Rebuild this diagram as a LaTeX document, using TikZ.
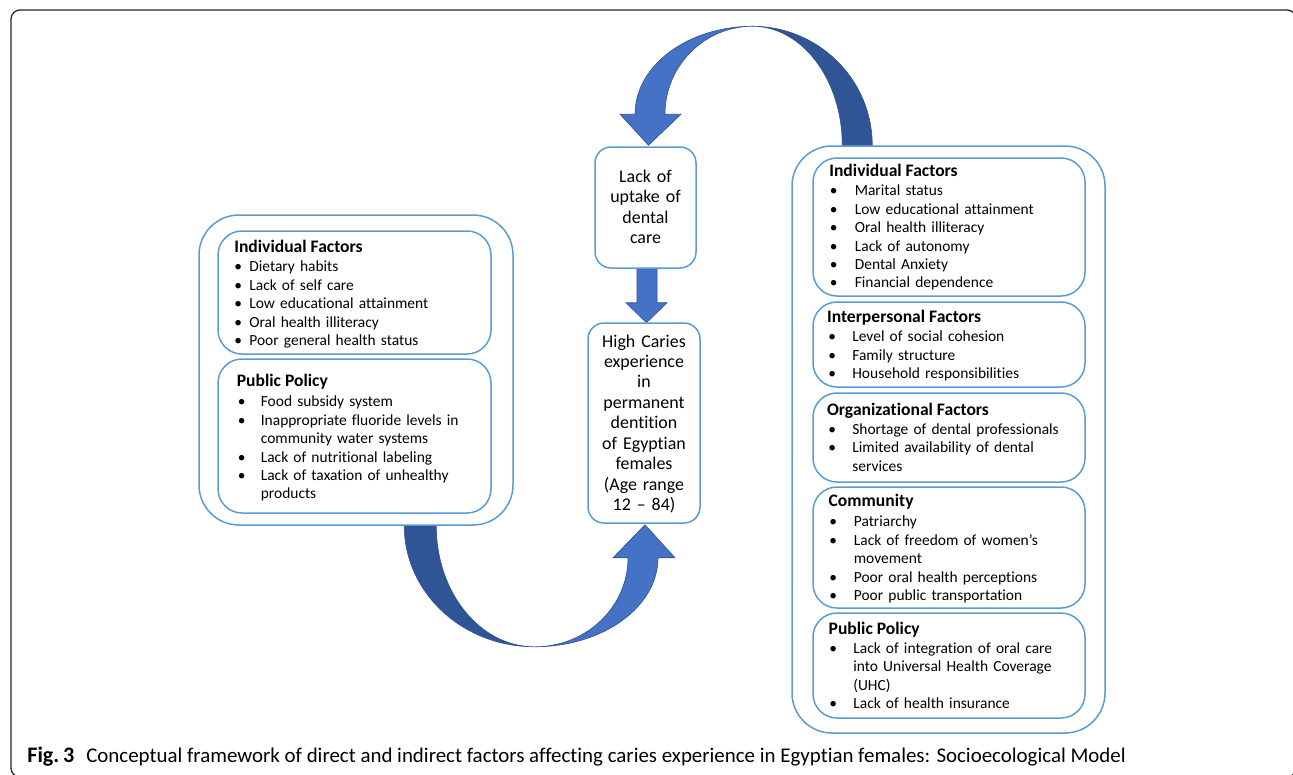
\documentclass[tikz,border=0pt]{standalone}
\usepackage{fontspec}
\setmainfont{Carlito}[Ligatures={TeX,NoCommon}]
\usetikzlibrary{positioning,calc}
\pgfdeclarelayer{background}
\pgfsetlayers{background,main}
\definecolor{boxblue}{RGB}{91,155,213}
\definecolor{arrlight}{RGB}{68,114,196}
\definecolor{arrdark}{RGB}{47,85,151}
\definecolor{arredge}{RGB}{47,82,143}
\newlength{\px}
\setlength{\px}{0.02cm}
\newcommand{\bu}[1]{\makebox[#1\px][l]{\textbullet}}
\newcommand{\hang}[1]{\hspace*{#1\px}}

\begin{document}
\begin{tikzpicture}[x=1\px, y=-1\px,
  outer/.style={draw=boxblue, line width=1.5\px, rounded corners=40\px, inner sep=0pt},
  inner/.style={draw=boxblue, line width=1.5\px, rounded corners=24\px, inner sep=0pt},
  mid/.style={draw=boxblue, line width=1.5\px, rounded corners=16\px, inner sep=0pt},
  ttl/.style={font=\fontsize{10}{12}\selectfont\bfseries, inner sep=0pt, anchor=base west},
  lst/.style={font=\fontsize{8.8}{10.5}\selectfont, inner sep=0pt, anchor=base west,
              text width=#1\px, align=left},
  lst/.default=250,
  ctr/.style={font=\fontsize{10.2}{11.65}\selectfont, inner sep=0pt, anchor=base,
              text width=110\px, align=center},
  light/.style={fill=arrlight, draw=arredge, line width=0.6\px},
  dark/.style={fill=arrdark, draw=arredge, line width=0.6\px}]
  \clip (0,0) rectangle (1293,774);
  \useasboundingbox (0,0) rectangle (1293,774);
  % frame of the figure
  \draw[line width=1.3\px, black!85, rounded corners=9\px] (11,10) rectangle (1296,777);

  % boxes
  \node[outer, minimum width=314\px, minimum height=310\px] (lout) at (356,370) {};
  \node[inner, minimum width=273\px, minimum height=123\px] (lif) at (354.5,292.5) {};
  \node[inner, minimum width=273\px, minimum height=154\px] (lpp) at (354.5,436) {};
  \node[mid, minimum width=101\px, minimum height=121\px] (lack) at (645.5,207.5) {};
  \node[mid, minimum width=112\px, minimum height=200\px] (caries) at (644,423) {};
  \node[outer, minimum width=313\px, minimum height=587\px] (rout) at (948.5,439.5) {};
  \node[inner, minimum width=272\px, minimum height=138\px] (rif) at (949,227) {};
  \node[inner, minimum width=272\px, minimum height=85\px] (rip) at (949,344.5) {};
  \node[inner, minimum width=272\px, minimum height=89\px] (rof) at (949,437.5) {};
  \node[inner, minimum width=272\px, minimum height=121\px] (rcom) at (949,547.5) {};
  \node[inner, minimum width=272\px, minimum height=105\px] (rpp) at (949,665.5) {};

  % left side texts
  \node[ttl] (liftl) at (234,252) {Individual Factors};
  \node[lst] (liflst) at (234,271.7) {\bu{15}Dietary habits\\
    \bu{15}Lack of self care\\
    \bu{15}Low educational attainment\\
    \bu{15}Oral health illiteracy\\
    \bu{15}Poor general health status};
  \node[ttl] (lpptl) at (236.5,386.7) {Public Policy};
  \node[lst] (lpplst) at (237.5,406.7) {\bu{23}Food subsidy system\\
    \bu{23}Inappropriate fluoride levels in\\
    \hang{23}community water systems\\
    \bu{23}Lack of nutritional labeling\\
    \bu{23}Lack of taxation of unhealthy\\
    \hang{23}products};

  % centre texts
  \node[ctr] (lacktxt) at (645.5,182.5) {Lack of\\uptake of\\dental\\care};
  \node[ctr] (cartxt) at (644,347) {High Caries\\experience\\in\\permanent\\dentition\\of Egyptian\\females\\(Age range\\12 -- 84)};

  % right side texts
  \node[ttl] (riftl) at (829,176.7) {Individual Factors};
  \node[lst] (riflst) at (829.5,195.7) {\bu{25}Marital status\\
    \bu{25}Low educational attainment\\
    \bu{25}Oral health illiteracy\\
    \bu{25}Lack of autonomy\\
    \bu{25}Dental Anxiety\\
    \bu{25}Financial dependence};
  \node[ttl] (riptl) at (826.7,322.3) {Interpersonal Factors};
  \node[lst] (riplst) at (828,341.7) {\bu{24}Level of social cohesion\\
    \bu{24}Family structure\\
    \bu{24}Household responsibilities};
  \node[ttl] (roftl) at (826.7,415) {Organizational Factors};
  \node[lst] (roflst) at (828,434.3) {\bu{24}Shortage of dental professionals\\
    \bu{24}Limited availability of dental\\
    \hang{24}services};
  \node[ttl] (rcomtl) at (828.3,506.7) {Community};
  \node[lst] (rcomlst) at (829,526.7) {\bu{24.5}Patriarchy\\
    \bu{24.5}Lack of freedom of women’s\\
    \hang{24.5}movement\\
    \bu{24.5}Poor oral health perceptions\\
    \bu{24.5}Poor public transportation};
  \node[ttl] (rpptl) at (828.3,634.3) {Public Policy};
  \node[lst] (rpplst) at (829,653.3) {\bu{24}Lack of integration of oral care\\
    \hang{24}into Universal Health Coverage\\
    \hang{24}(UHC)\\
    \bu{24}Lack of health insurance};

  % block arrows
  \begin{pgfonlayer}{background}
    \path[dark] ($(rout.north west)+(81,0)$)
      arc[start angle=0, end angle=-90, x radius=120, y radius=119]
      arc[start angle=-90, end angle=0, x radius=90, y radius=119] -- cycle;
    \path[light] ($(lack.north)+(3,-1)$) -- ++(32.5,-31) -- ++(-16,0)
      arc[start angle=180, end angle=270, x radius=88, y radius=88]
      arc[start angle=-90, end angle=-180, x radius=118, y radius=88]
      -- ++(-15,0) -- cycle;
    \path[light] ($(lack.south)+(-8.5,0)$) -- ++(20,0) -- ++(0,34) -- ++(10,0)
      -- ++(-20.5,20) -- ++(-20.5,-20) -- ++(11,0) -- cycle;
    \path[dark] ($(lout.south west)+(206,0)$)
      arc[start angle=180, end angle=90, x radius=130, y radius=121]
      arc[start angle=90, end angle=180, x radius=98, y radius=121] -- cycle;
    \path[light] ($(caries.south)+(1,1)$) -- ++(30,33) -- ++(-17,0)
      arc[start angle=0, end angle=90, x radius=123, y radius=89]
      arc[start angle=90, end angle=0, x radius=93, y radius=89]
      -- ++(-15,0) -- cycle;
  \end{pgfonlayer}

  % caption
  \node[anchor=base west, inner sep=0pt, font=\fontsize{11.9}{13}\selectfont] (cap) at (27,762)
    {{\fontsize{12.6}{13}\selectfont\textbf{Fig.\,3}}\hspace{12\px}Conceptual framework of direct and indirect factors affecting caries experience in Egyptian females: Socioecological Model};
\end{tikzpicture}
\end{document}
